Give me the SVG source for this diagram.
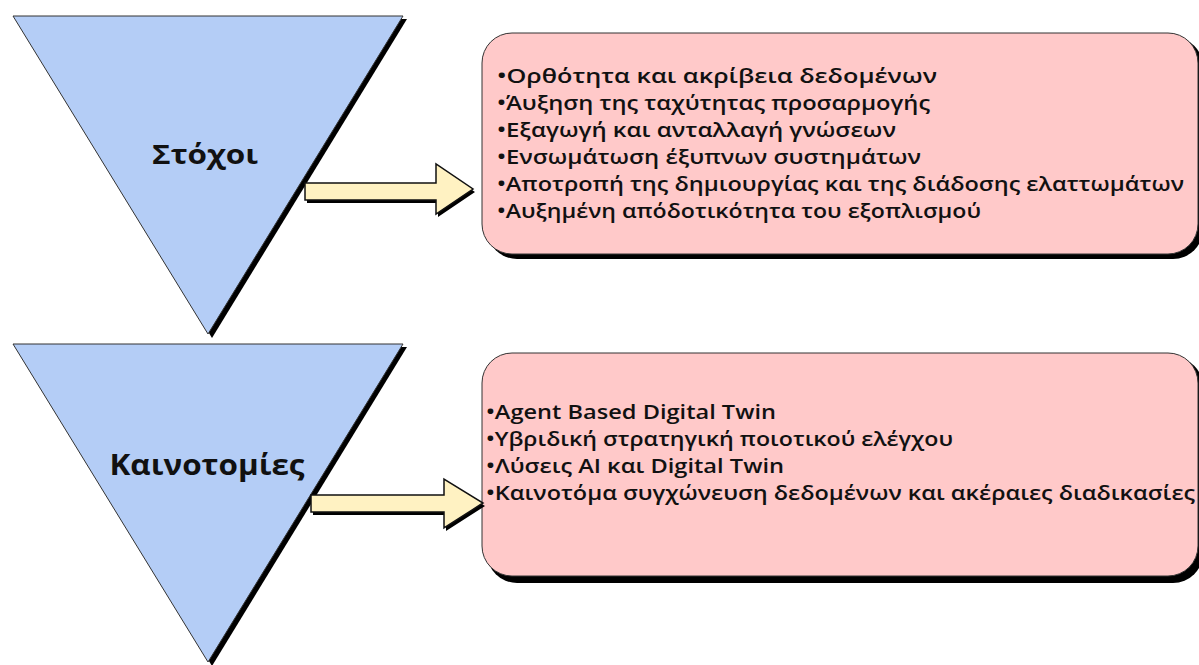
<svg xmlns="http://www.w3.org/2000/svg" width="1199" height="665" viewBox="0 0 1199 665">
  <style>
    .tri { fill: #b4cdf6; stroke: #333; stroke-width: 1; }
    .shadow { fill: #000; }
    .box { fill: #ffc9c9; stroke: #333; stroke-width: 1; }
    .arrow { fill: #fff2c2; stroke: #111; stroke-width: 1.5; stroke-linejoin: miter; }
    .label { font-family: "Open Sans", "Liberation Sans", sans-serif; font-weight: 700; fill: #111; text-anchor: middle; }
    .item { font-family: "Open Sans", "Liberation Sans", sans-serif; font-weight: 600; font-size: 20.5px; fill: #111; }
  </style>
  <rect width="1199" height="665" fill="#fff"/>

  <g id="node-stoxoi">
    <polygon class="shadow" points="17,19 407,19 212,338"/>
    <polygon class="tri" points="13,16 403,16 208,334"/>
    <text class="label" x="205" y="164" font-size="27" textLength="106" lengthAdjust="spacingAndGlyphs">Στόχοι</text>
  </g>

  <g id="node-kainotomies">
    <polygon class="shadow" points="17,347 407,347 212,666"/>
    <polygon class="tri" points="13,344 403,344 208,662"/>
    <text class="label" x="207" y="475" font-size="29" textLength="195" lengthAdjust="spacingAndGlyphs">Καινοτομίες</text>
  </g>

  <g id="node-goals-box">
    <rect class="shadow" x="487" y="37" width="716" height="222" rx="30" ry="30"/>
    <rect class="box" x="482" y="33" width="716" height="221" rx="30" ry="30"/>
    <text class="item" x="497" y="83" textLength="440" lengthAdjust="spacingAndGlyphs">•Ορθότητα και ακρίβεια δεδομένων</text>
    <text class="item" x="497" y="110" textLength="433" lengthAdjust="spacingAndGlyphs">•Άυξηση της ταχύτητας προσαρμογής</text>
    <text class="item" x="497" y="137" textLength="399" lengthAdjust="spacingAndGlyphs">•Εξαγωγή και ανταλλαγή γνώσεων</text>
    <text class="item" x="497" y="164" textLength="424" lengthAdjust="spacingAndGlyphs">•Ενσωμάτωση έξυπνων συστημάτων</text>
    <text class="item" x="497" y="191" textLength="687" lengthAdjust="spacingAndGlyphs">•Αποτροπή της δημιουργίας και της διάδοσης ελαττωμάτων</text>
    <text class="item" x="497" y="218" textLength="484" lengthAdjust="spacingAndGlyphs">•Αυξημένη απόδοτικότητα του εξοπλισμού</text>
  </g>

  <g id="node-innovations-box">
    <rect class="shadow" x="487" y="357" width="716" height="226" rx="30" ry="30"/>
    <rect class="box" x="482" y="353" width="716" height="223" rx="30" ry="30"/>
    <text class="item" x="486" y="419" textLength="290" lengthAdjust="spacingAndGlyphs">•Agent Based Digital Twin</text>
    <text class="item" x="486" y="446" textLength="467" lengthAdjust="spacingAndGlyphs">•Υβριδική στρατηγική ποιοτικού ελέγχου</text>
    <text class="item" x="486" y="473" textLength="298" lengthAdjust="spacingAndGlyphs">•Λύσεις AI και Digital Twin</text>
    <text class="item" x="486" y="500" textLength="709" lengthAdjust="spacingAndGlyphs">•Καινοτόμα συγχώνευση δεδομένων και ακέραιες διαδικασίες</text>
  </g>

  <g id="connectors">
    <polygon class="shadow" points="307,186 438,186 438,167 475,192 438,217 438,203 307,203"/>
    <polygon class="arrow" points="305,183 436,183 436,164 473,189 436,214 436,200 305,200"/>
    <polygon class="shadow" points="313,498 446,498 446,482 485,506 446,531 446,515 313,515"/>
    <polygon class="arrow" points="311,495 444,495 444,479 483,503 444,528 444,512 311,512"/>
  </g>
</svg>
